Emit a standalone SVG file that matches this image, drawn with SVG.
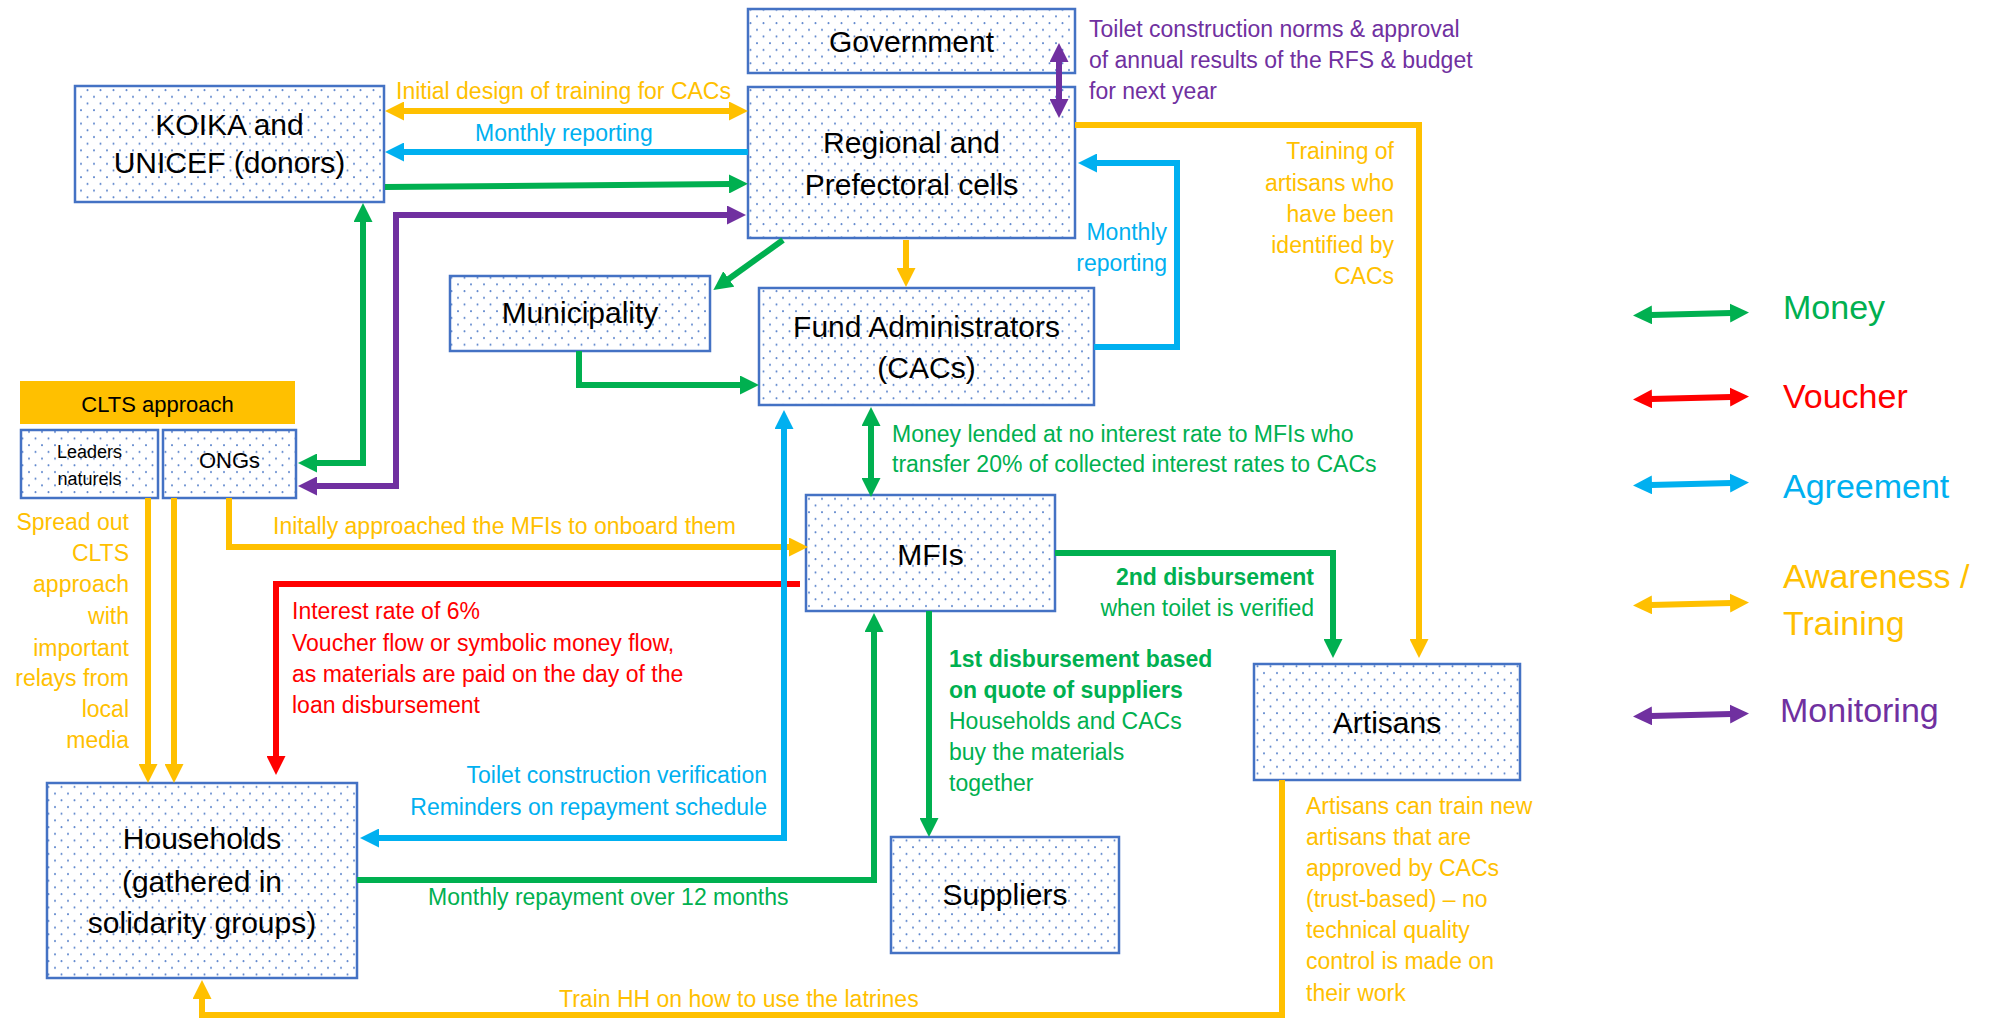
<svg xmlns="http://www.w3.org/2000/svg" width="1989" height="1020" viewBox="0 0 1989 1020">
<defs>
<style>
.nd{fill:url(#dots);stroke:#4472C4;stroke-width:2.5}
.n{font-family:"Liberation Sans",Arial,sans-serif;font-size:30px;fill:#000;text-anchor:middle}
.l{font-family:"Liberation Sans",Arial,sans-serif;font-size:23px}
.lg{font-family:"Liberation Sans",Arial,sans-serif;font-size:34px}
.e{text-anchor:end}
.bd{font-weight:bold}
.o{fill:#FFC000}.b{fill:#00B0F0}.g{fill:#00B050}.r{fill:#FF0000}.p{fill:#7030A0}
.c{fill:none;stroke-width:6;stroke-linejoin:miter}
.co{stroke:#FFC000}.cb{stroke:#00B0F0}.cg{stroke:#00B050}.cr{stroke:#FF0000}.cp{stroke:#7030A0}
</style>
<pattern id="dots" width="13" height="13.4" patternUnits="userSpaceOnUse">
<rect width="13" height="13.4" fill="#fff"/>
<circle cx="3" cy="3" r="1" fill="#4472C4" opacity="0.85"/>
<circle cx="9.5" cy="9.7" r="1" fill="#4472C4" opacity="0.85"/>
</pattern>
<marker id="mo" viewBox="0 0 19 19" refX="1" refY="9.5" markerWidth="19" markerHeight="19" markerUnits="userSpaceOnUse" orient="auto-start-reverse"><path d="M0,0 L19,9.5 L0,19 z" fill="#FFC000"/></marker>
<marker id="mb" viewBox="0 0 19 19" refX="1" refY="9.5" markerWidth="19" markerHeight="19" markerUnits="userSpaceOnUse" orient="auto-start-reverse"><path d="M0,0 L19,9.5 L0,19 z" fill="#00B0F0"/></marker>
<marker id="mg" viewBox="0 0 19 19" refX="1" refY="9.5" markerWidth="19" markerHeight="19" markerUnits="userSpaceOnUse" orient="auto-start-reverse"><path d="M0,0 L19,9.5 L0,19 z" fill="#00B050"/></marker>
<marker id="mr" viewBox="0 0 19 19" refX="1" refY="9.5" markerWidth="19" markerHeight="19" markerUnits="userSpaceOnUse" orient="auto-start-reverse"><path d="M0,0 L19,9.5 L0,19 z" fill="#FF0000"/></marker>
<marker id="mp" viewBox="0 0 19 19" refX="1" refY="9.5" markerWidth="19" markerHeight="19" markerUnits="userSpaceOnUse" orient="auto-start-reverse"><path d="M0,0 L19,9.5 L0,19 z" fill="#7030A0"/></marker>
</defs>
<rect width="1989" height="1020" fill="#fff"/>

<g id="government"><rect class="nd" x="748" y="9" width="327" height="64"/><text class="n" x="911.5" y="52">Government</text></g>
<g id="regional"><rect class="nd" x="748" y="87" width="327" height="151"/><text class="n" x="911.5" y="153">Regional and</text><text class="n" x="911.5" y="195">Prefectoral cells</text></g>
<g id="koika"><rect class="nd" x="75" y="86" width="309" height="116"/><text class="n" x="229.5" y="135">KOIKA and</text><text class="n" x="229.5" y="173">UNICEF (donors)</text></g>
<g id="municipality"><rect class="nd" x="450" y="276" width="260" height="75"/><text class="n" x="580" y="323">Municipality</text></g>
<g id="fund-admin"><rect class="nd" x="759" y="288" width="335" height="117"/><text class="n" x="926.5" y="337">Fund Administrators</text><text class="n" x="926.5" y="378">(CACs)</text></g>
<g id="clts"><rect x="20" y="381" width="275" height="43" fill="#FFC000"/><text class="n" style="font-size:22px" x="157.5" y="412">CLTS approach</text></g>
<g id="leaders"><rect class="nd" x="21" y="430" width="137" height="68"/><text class="n" style="font-size:18px" x="89.5" y="458">Leaders</text><text class="n" style="font-size:18px" x="89.5" y="485">naturels</text></g>
<g id="ongs"><rect class="nd" x="163" y="430" width="133" height="68"/><text class="n" style="font-size:22px" x="229.5" y="468">ONGs</text></g>
<g id="mfis"><rect class="nd" x="806" y="495" width="249" height="116"/><text class="n" x="930.5" y="565">MFIs</text></g>
<g id="artisans"><rect class="nd" x="1254" y="664" width="266" height="116"/><text class="n" x="1387" y="733">Artisans</text></g>
<g id="households"><rect class="nd" x="47" y="783" width="310" height="195"/><text class="n" x="202" y="849">Households</text><text class="n" x="202" y="892">(gathered in</text><text class="n" x="202" y="933">solidarity groups)</text></g>
<g id="suppliers"><rect class="nd" x="891" y="837" width="228" height="116"/><text class="n" x="1005" y="905">Suppliers</text></g>

<g id="connectors">
<path class="c co" d="M403,111 L730,111" marker-start="url(#mo)" marker-end="url(#mo)"/>
<path class="c cb" d="M748,152 L403,152" marker-end="url(#mb)"/>
<path class="c cg" d="M385,187 L730,184" marker-end="url(#mg)"/>
<path class="c cp" d="M316,486 L396,486 L396,215 L728,215" marker-start="url(#mp)" marker-end="url(#mp)"/>
<path class="c cg" d="M316,463 L363,463 L363,221" marker-start="url(#mg)" marker-end="url(#mg)"/>
<path class="c cg" d="M783,240 L728,279.5" marker-end="url(#mg)"/>
<path class="c cg" d="M579,351 L579,385 L741,385" marker-end="url(#mg)"/>
<path class="c co" d="M906,240 L906,269" marker-end="url(#mo)"/>
<path class="c cb" d="M1094,347 L1177,347 L1177,163 L1096,163" marker-end="url(#mb)"/>
<path class="c cp" d="M1059,61 L1059,100" marker-start="url(#mp)" marker-end="url(#mp)"/>
<path class="c co" d="M1075,125 L1419,125 L1419,640" marker-end="url(#mo)"/>
<path class="c cg" d="M871,425 L871,479" marker-start="url(#mg)" marker-end="url(#mg)"/>
<path class="c co" d="M229,498 L229,547 L790,547" marker-end="url(#mo)"/>
<path class="c cr" d="M800,584 L276,584 L276,757" marker-end="url(#mr)"/>
<path class="c cb" d="M378,838 L784,838 L784,428" marker-start="url(#mb)" marker-end="url(#mb)"/>
<path class="c cg" d="M357,880 L874,880 L874,631" marker-end="url(#mg)"/>
<path class="c cg" d="M929,611 L929,819" marker-end="url(#mg)"/>
<path class="c cg" d="M1055,553 L1333,553 L1333,640" marker-end="url(#mg)"/>
<path class="c co" d="M1282,780 L1282,1015 L202,1015 L202,998" marker-end="url(#mo)"/>
<path class="c co" d="M148,498 L148,765" marker-end="url(#mo)"/>
<path class="c co" d="M174,498 L174,765" marker-end="url(#mo)"/>
</g>

<g id="connector-labels">
<text class="l o" x="396" y="99">Initial design of training for CACs</text>
<text class="l b" x="475" y="141">Monthly reporting</text>
<text class="l p" x="1089" y="37">Toilet construction norms &amp; approval</text>
<text class="l p" x="1089" y="68">of annual results of the RFS &amp; budget</text>
<text class="l p" x="1089" y="99">for next year</text>
<text class="l b e" x="1167" y="240">Monthly</text>
<text class="l b e" x="1167" y="271">reporting</text>
<text class="l o e" x="1394" y="159">Training of</text>
<text class="l o e" x="1394" y="191">artisans who</text>
<text class="l o e" x="1394" y="222">have been</text>
<text class="l o e" x="1394" y="253">identified by</text>
<text class="l o e" x="1394" y="284">CACs</text>
<text class="l g" x="892" y="442">Money lended at no interest rate to MFIs who</text>
<text class="l g" x="892" y="472">transfer 20% of collected interest rates to CACs</text>
<text class="l o" x="273" y="534">Initally approached the MFIs to onboard them</text>
<text class="l o e" x="129" y="530">Spread out</text>
<text class="l o e" x="129" y="561">CLTS</text>
<text class="l o e" x="129" y="592">approach</text>
<text class="l o e" x="129" y="624">with</text>
<text class="l o e" x="129" y="656">important</text>
<text class="l o e" x="129" y="686">relays from</text>
<text class="l o e" x="129" y="717">local</text>
<text class="l o e" x="129" y="748">media</text>
<text class="l r" x="292" y="619">Interest rate of 6%</text>
<text class="l r" x="292" y="651">Voucher flow or symbolic money flow,</text>
<text class="l r" x="292" y="682">as materials are paid on the day of the</text>
<text class="l r" x="292" y="713">loan disbursement</text>
<text class="l g bd e" x="1314" y="585">2nd disbursement</text>
<text class="l g e" x="1314" y="616">when toilet is verified</text>
<text class="l g bd" x="949" y="667">1st disbursement based</text>
<text class="l g bd" x="949" y="698">on quote of suppliers</text>
<text class="l g" x="949" y="729">Households and CACs</text>
<text class="l g" x="949" y="760">buy the materials</text>
<text class="l g" x="949" y="791">together</text>
<text class="l b e" x="767" y="783">Toilet construction verification</text>
<text class="l b e" x="767" y="815">Reminders on repayment schedule</text>
<text class="l g" x="428" y="905">Monthly repayment over 12 months</text>
<text class="l o" x="559" y="1007">Train HH on how to use the latrines</text>
<text class="l o" x="1306" y="814">Artisans can train new</text>
<text class="l o" x="1306" y="845">artisans that are</text>
<text class="l o" x="1306" y="876">approved by CACs</text>
<text class="l o" x="1306" y="907">(trust-based) – no</text>
<text class="l o" x="1306" y="938">technical quality</text>
<text class="l o" x="1306" y="969">control is made on</text>
<text class="l o" x="1306" y="1001">their work</text>
</g>

<g id="legend">
<path class="c cg" d="M1651,315 L1731,313" marker-start="url(#mg)" marker-end="url(#mg)"/>
<text class="lg g" x="1783" y="319">Money</text>
<path class="c cr" d="M1651,399 L1731,397" marker-start="url(#mr)" marker-end="url(#mr)"/>
<text class="lg r" x="1783" y="408">Voucher</text>
<path class="c cb" d="M1651,485 L1731,483" marker-start="url(#mb)" marker-end="url(#mb)"/>
<text class="lg b" x="1783" y="498">Agreement</text>
<path class="c co" d="M1651,605 L1731,603" marker-start="url(#mo)" marker-end="url(#mo)"/>
<text class="lg o" x="1783" y="588">Awareness /</text>
<text class="lg o" x="1783" y="635">Training</text>
<path class="c cp" d="M1651,716 L1731,714" marker-start="url(#mp)" marker-end="url(#mp)"/>
<text class="lg p" x="1780" y="722">Monitoring</text>
</g>
</svg>
